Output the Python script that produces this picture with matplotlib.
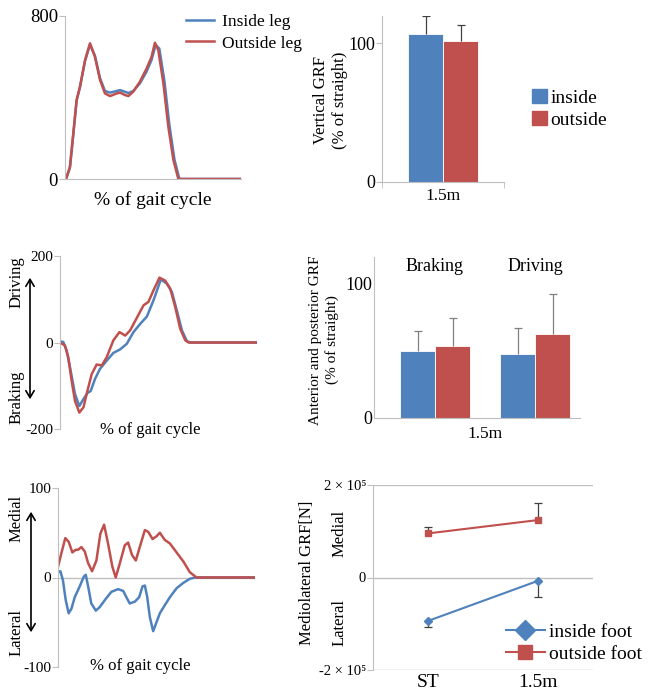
import matplotlib
matplotlib.use("Agg")
import matplotlib.pyplot as plt
from matplotlib.patches import Patch, FancyArrowPatch
from matplotlib.lines import Line2D

plt.rcParams['font.family'] = ['Liberation Serif', 'DejaVu Serif']
plt.rcParams['axes.unicode_minus'] = False

W, H = 651, 694
BLUE = '#4F81BD'
RED = '#C0504D'
GREY = '#BFBFBF'

# ---------------- data ----------------
# Panel A: vertical GRF curves (x = % of gait cycle, y = N)
vert_in_x = [0.6, 2.8, 4.7, 6.6, 8.5, 11.4, 14.2, 17.0, 19.9, 22.7, 25.6, 29.4, 31.3, 34.1, 36.0, 38.8,
             42.6, 46.4, 49.2, 51.5, 53.6, 56.5, 59.3, 62.2, 65.0, 100]
vert_in_y = [0, 55, 215, 385, 450, 580, 660, 605, 495, 432, 424, 432, 436, 428, 422, 432,
             470, 528, 585, 658, 640, 480, 265, 95, 0, 0]
vert_out_x = [0.6, 2.8, 4.7, 6.6, 8.5, 11.4, 14.2, 17.0, 19.9, 22.7, 25.6, 29.4, 31.3, 34.1, 36.0, 38.8,
              42.6, 46.4, 49.2, 51.1, 53.0, 55.9, 58.7, 61.6, 64.4, 100]
vert_out_y = [0, 60, 224, 388, 453, 584, 666, 600, 486, 420, 407, 420, 424, 412, 407, 429,
              478, 543, 600, 669, 633, 470, 257, 93, 0, 0]

# Panel B: vertical GRF bars (% of straight)
bar_cat = ['1.5m']
vert_inside = [106.2]
vert_outside = [101.7]
vert_inside_err = [13.2]
vert_outside_err = [11.0]

# Panel C: anterior-posterior GRF curves
ap_in_x = [0, 1.7, 3.4, 5.4, 7.6, 9.8, 11.9, 13.9, 15.6, 17.8, 20.3, 23.7, 27.1, 30.5, 33.9, 37.3,
           40.7, 44.1, 47.5, 51.2, 54.2, 56.8, 59.3, 61.9, 64.4, 66.1, 100]
ap_in_y = [3, 1, -19, -65, -119, -147, -131, -117, -112, -84, -61, -42, -24, -16, -3, 24,
           43, 60, 98, 146, 136, 117, 74, 28, 3, 0, 0]
ap_out_x = [0, 2.5, 4.2, 5.9, 7.6, 9.8, 11.9, 13.9, 16.1, 18.6, 21.2, 23.7, 27.1, 30.2, 33.1, 35.6,
            39.0, 42.4, 44.9, 47.5, 50.5, 53.4, 55.9, 58.5, 61.0, 63.6, 65.3, 100]
ap_out_y = [0, -7, -34, -88, -135, -162, -150, -112, -73, -51, -53, -34, 5, 24, 16, 28,
            57, 86, 94, 121, 150, 143, 125, 82, 32, 5, 0, 0]

# Panel D: AP GRF bars (% of straight)
ap_groups = ['Braking', 'Driving']
ap_inside = [49.8, 47.5]
ap_outside = [53.7, 62.7]
ap_inside_err = [14.9, 19.4]
ap_outside_err = [20.9, 29.8]

# Panel E: mediolateral GRF curves
ml_in_x = [0, 1.2, 2.5, 3.9, 5.4, 6.8, 8.5, 11.0, 13.1, 14.1, 15.3, 16.9, 19.2, 21.2, 24.2, 27.1,
           30.5, 33.1, 34.7, 36.4, 39.0, 41.2, 42.9, 44.1, 45.3, 46.6, 48.3, 50.0, 51.7, 54.2,
           56.8, 60.2, 63.6, 66.9, 69.5, 100]
ml_in_y = [6, 7, -3, -25, -40, -35, -22, -10, 1, 3, -10, -29, -37, -33, -24, -16,
           -13, -15, -22, -29, -27, -22, -10, -9, -22, -44, -60, -50, -40, -31,
           -22, -12, -6, -1.5, 0, 0]
ml_out_x = [0, 1.7, 3.7, 5.4, 7.3, 9.0, 10.2, 11.9, 13.6, 15.3, 17.3, 19.5, 21.5, 23.4, 25.4, 27.6,
            29.3, 31.4, 33.9, 35.6, 37.6, 39.5, 41.5, 44.1, 45.8, 48.0, 50.0, 51.7, 54.2, 56.8,
            60.2, 63.6, 66.9, 70.3, 100]
ml_out_y = [12, 27, 44, 40, 28, 31, 31, 34, 29, 16, 7, 19, 49, 59, 38, 12,
            0, 16, 36, 39, 25, 19, 34, 53, 51, 43, 46, 50, 42, 38,
            28, 18, 6, 0, 0]

# Panel F: mediolateral GRF means
ml_cat = ['ST', '1.5m']
ml_inside = [-0.939e5, -0.072e5]
ml_outside = [0.953e5, 1.242e5]
ml_inside_err = [0.13e5, 0.347e5]
ml_outside_err = [0.144e5, 0.375e5]
ml_ticklabels = ['-2 × 10⁵', '0', '2 × 10⁵']


def rect(l, t, r, b):
    return [l / W, 1 - b / H, (r - l) / W, (b - t) / H]


def fx(px):
    return px / W


def fy(py):
    return 1 - py / H


fig = plt.figure(figsize=(W / 100, H / 100), dpi=100)


def style_axes(ax, bottom=True):
    for s in ['top', 'right']:
        ax.spines[s].set_visible(False)
    ax.spines['left'].set_color(GREY)
    ax.spines['bottom'].set_color(GREY)
    ax.spines['bottom'].set_visible(bottom)
    ax.tick_params(axis='y', color=GREY, length=4, width=0.8, pad=1)
    ax.tick_params(axis='x', color=GREY, length=0)


def upper_err(ax, x, y, err, color, **kw):
    eb = ax.errorbar(x, y, yerr=[[0] * len(err), err], fmt='none', ecolor=color,
                     elinewidth=0.9, capsize=3, capthick=0.9, **kw)
    eb.lines[1][0].set_visible(False)
    return eb


def lower_err(ax, x, y, err, color, **kw):
    eb = ax.errorbar(x, y, yerr=[err, [0] * len(err)], fmt='none', ecolor=color,
                     elinewidth=0.9, capsize=3, capthick=0.9, **kw)
    eb.lines[1][1].set_visible(False)
    return eb


# ---------- Panel A ----------
axA = fig.add_axes(rect(65, 16, 241, 179))
axA.plot(vert_in_x, vert_in_y, color=BLUE, lw=1.8, label='Inside leg')
axA.plot(vert_out_x, vert_out_y, color=RED, lw=1.8, label='Outside leg')
axA.set_xlim(0, 100)
axA.set_ylim(0, 800)
axA.set_yticks([0, 800])
axA.set_xticks([])
style_axes(axA)
axA.tick_params(axis='y', labelsize=13.5)
axA.set_xlabel('% of gait cycle', fontsize=14, labelpad=9)
axA.legend(loc='upper left', bbox_to_anchor=(fx(186), fy(14)), bbox_transform=fig.transFigure,
           frameon=False, fontsize=12.5, handlelength=1.6, handletextpad=0.5,
           labelspacing=0.3, borderpad=0, borderaxespad=0)

# ---------- Panel B ----------
axB = fig.add_axes(rect(382, 16, 504, 182))
bw = 35 / 122
axB.bar([-bw / 2], vert_inside, bw, color=BLUE, edgecolor='white', linewidth=0.6)
axB.bar([bw / 2], vert_outside, bw, color=RED, edgecolor='white', linewidth=0.6)
upper_err(axB, [-bw / 2], vert_inside, vert_inside_err, '#404040')
upper_err(axB, [bw / 2], vert_outside, vert_outside_err, '#404040')
axB.set_xlim(-0.5, 0.5)
axB.set_ylim(0, 119.5)
axB.set_yticks([0, 100])
axB.set_xticks([0])
axB.set_xticklabels(bar_cat)
style_axes(axB)
axB.tick_params(axis='y', labelsize=13)
axB.tick_params(axis='x', labelsize=12.5, pad=4)
axB.set_xticks([-0.5, 0.5], minor=True)
axB.tick_params(axis='x', which='minor', length=4, color=GREY)
fig.text(fx(331), fy(100), 'Vertical GRF\n(% of straight)', rotation=90, ha='center', va='center',
         fontsize=12, linespacing=1.25)
fig.legend(handles=[Patch(color=BLUE), Patch(color=RED)], labels=['inside', 'outside'],
           loc='upper left', bbox_to_anchor=(fx(532), fy(89)), frameon=False, fontsize=14,
           handlelength=0.75, handleheight=0.75, handletextpad=0.2, labelspacing=0.2,
           borderpad=0, borderaxespad=0)

# ---------- Panel C ----------
axC = fig.add_axes(rect(60, 256, 257, 429))
axC.plot(ap_in_x, ap_in_y, color=BLUE, lw=1.8)
axC.plot(ap_out_x, ap_out_y, color=RED, lw=1.8)
axC.set_xlim(0, 100)
axC.set_ylim(-200, 200)
axC.set_yticks([-200, 0, 200])
axC.set_xticks([])
style_axes(axC, bottom=False)
axC.tick_params(axis='y', labelsize=11)
fig.text(fx(150), fy(430), '% of gait cycle', ha='center', va='center', fontsize=12)
fig.text(fx(17), fy(282), 'Driving', rotation=90, ha='center', va='center', fontsize=12)
fig.text(fx(17), fy(397), 'Braking', rotation=90, ha='center', va='center', fontsize=12)
fig.add_artist(FancyArrowPatch((fx(30), fy(275)), (fx(30), fy(402)),
               transform=fig.transFigure, arrowstyle='<->,head_length=5,head_width=3',
               color='black', lw=1.2, mutation_scale=1))

# ---------- Panel D ----------
axD = fig.add_axes(rect(374, 257, 580, 418))
xs = [0, 1]
w = 0.35
xin = [x - w / 2 for x in xs]
xout = [x + w / 2 for x in xs]
axD.bar(xin, ap_inside, w, color=BLUE, edgecolor='white', linewidth=0.6)
axD.bar(xout, ap_outside, w, color=RED, edgecolor='white', linewidth=0.6)
upper_err(axD, xin, ap_inside, ap_inside_err, '#808080')
upper_err(axD, xout, ap_outside, ap_outside_err, '#808080')
axD.set_xlim(-0.61, 1.45)
axD.set_ylim(0, 120)
axD.set_yticks([0, 100])
axD.set_xticks([])
style_axes(axD)
axD.tick_params(axis='y', labelsize=13, length=0)
for x, g in zip(xs, ap_groups):
    axD.text(x, 113, g, ha='center', va='center', fontsize=13)
fig.text(fx(485), fy(434), bar_cat[0], ha='center', va='center', fontsize=12.5)
fig.text(fx(324), fy(340), 'Anterior and posterior GRF\n(% of straight)', rotation=90,
         ha='center', va='center', fontsize=11, linespacing=1.25)

# ---------- Panel E ----------
axE = fig.add_axes(rect(58, 488, 255, 667))
axE.axhline(0, color=GREY, lw=1)
axE.plot(ml_in_x, ml_in_y, color=BLUE, lw=1.8)
axE.plot(ml_out_x, ml_out_y, color=RED, lw=1.8)
axE.set_xlim(0, 100)
axE.set_ylim(-100, 100)
axE.set_yticks([-100, 0, 100])
axE.set_xticks([])
style_axes(axE, bottom=False)
axE.tick_params(axis='y', labelsize=11)
fig.text(fx(140), fy(666), '% of gait cycle', ha='center', va='center', fontsize=12)
fig.text(fx(17), fy(518), 'Medial', rotation=90, ha='center', va='center', fontsize=12)
fig.text(fx(17), fy(633), 'Lateral', rotation=90, ha='center', va='center', fontsize=12)
fig.add_artist(FancyArrowPatch((fx(31), fy(509)), (fx(31), fy(635)),
               transform=fig.transFigure, arrowstyle='<->,head_length=5,head_width=3',
               color='black', lw=1.2, mutation_scale=1))

# ---------- Panel F ----------
axF = fig.add_axes(rect(373, 485, 593, 670))
xF = [0, 1]
lower_err(axF, xF, ml_inside, ml_inside_err, '#404040')
upper_err(axF, xF, ml_outside, ml_outside_err, '#404040')
axF.plot(xF, ml_inside, color=BLUE, lw=1.5, marker='D', markersize=4)
axF.plot(xF, ml_outside, color=RED, lw=1.5, marker='s', markersize=5)
axF.set_xlim(-0.5, 1.5)
axF.set_ylim(-2e5, 2e5)
axF.set_yticks([-2e5, 0, 2e5])
axF.set_yticklabels(ml_ticklabels)
axF.set_xticks(xF)
axF.set_xticklabels(ml_cat)
axF.grid(axis='y', color=GREY, lw=1)
axF.set_axisbelow(True)
for s in ['top', 'right', 'bottom']:
    axF.spines[s].set_visible(False)
axF.spines['left'].set_color(GREY)
axF.tick_params(axis='y', color=GREY, length=4, labelsize=10.5, pad=1)
axF.tick_params(axis='x', length=0, labelsize=14, pad=3)
fig.text(fx(307), fy(573), 'Mediolateral GRF[N]', rotation=90, ha='center', va='center', fontsize=12)
fig.text(fx(340), fy(533), 'Medial', rotation=90, ha='center', va='center', fontsize=12)
fig.text(fx(340), fy(623), 'Lateral', rotation=90, ha='center', va='center', fontsize=12)
fig.legend(handles=[Line2D([], [], color=BLUE, lw=1.5, marker='D', markersize=10),
                    Line2D([], [], color=RED, lw=1.5, marker='s', markersize=10)],
           labels=['inside foot', 'outside foot'], loc='upper left',
           bbox_to_anchor=(fx(506), fy(623)), frameon=False, fontsize=14,
           handlelength=2.0, handletextpad=0.2, labelspacing=0.25, borderpad=0, borderaxespad=0)

fig.savefig('out.png', dpi=100)
